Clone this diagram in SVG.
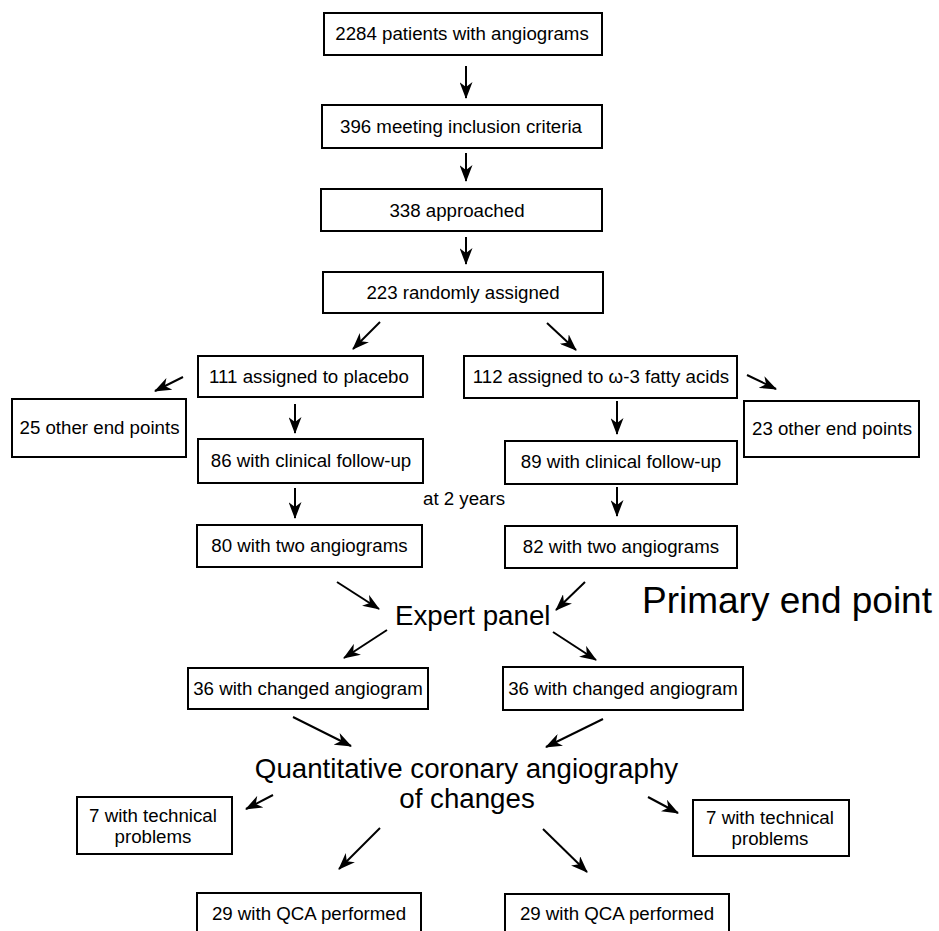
<svg xmlns="http://www.w3.org/2000/svg" width="939" height="931" viewBox="0 0 939 931">
<style>
  .box { fill: #fff; stroke: #000; stroke-width: 2; }
  .t { font-family: "Liberation Sans", Arial, Helvetica, sans-serif; font-size: 18.7px; fill: #000; text-anchor: middle; }
  .big { font-family: "Liberation Sans", Arial, Helvetica, sans-serif; font-size: 27.7px; fill: #000; }
  .huge { font-family: "Liberation Sans", Arial, Helvetica, sans-serif; font-size: 37px; fill: #000; }
  .c line { stroke: #000; stroke-width: 2; fill: none; marker-end: url(#ah); }
</style>
<defs>
  <marker id="ah" viewBox="0 0 17 13" refX="16" refY="6.5" markerWidth="17" markerHeight="13" markerUnits="userSpaceOnUse" orient="auto">
    <path d="M0,0 L17,6.5 L0,13 L5,6.5 z" fill="#000"/>
  </marker>
</defs>
<rect width="939" height="931" fill="#fff"/>

<g id="n2284"><rect class="box" x="324" y="13" width="278" height="42"/><text class="t" x="462" y="40">2284 patients with angiograms</text></g>
<g id="n396"><rect class="box" x="322" y="105" width="280" height="43"/><text class="t" x="461" y="133">396 meeting inclusion criteria</text></g>
<g id="n338"><rect class="box" x="321" y="189" width="281" height="42"/><text class="t" x="457" y="217">338 approached</text></g>
<g id="n223"><rect class="box" x="323" y="272" width="280" height="41"/><text class="t" x="463" y="299">223 randomly assigned</text></g>
<g id="n111"><rect class="box" x="198" y="356" width="225" height="41"/><text class="t" x="309" y="383">111 assigned to placebo</text></g>
<g id="n112"><rect class="box" x="464" y="356" width="273" height="42"/><text class="t" x="601" y="383">112 assigned to ω-3 fatty acids</text></g>
<g id="n25"><rect class="box" x="12" y="399" width="174" height="58"/><text class="t" x="99.5" y="434">25 other end points</text></g>
<g id="n23"><rect class="box" x="744" y="401" width="175" height="56"/><text class="t" x="832" y="435">23 other end points</text></g>
<g id="n86"><rect class="box" x="198" y="439" width="225" height="44"/><text class="t" x="311" y="467">86 with clinical follow-up</text></g>
<g id="n89"><rect class="box" x="505" y="441" width="232" height="43"/><text class="t" x="621" y="468">89 with clinical follow-up</text></g>
<g id="lbl2y"><text class="t" x="423" y="505" style="text-anchor:start">at 2 years</text></g>
<g id="n80"><rect class="box" x="197" y="525" width="225" height="42"/><text class="t" x="309.5" y="552">80 with two angiograms</text></g>
<g id="n82"><rect class="box" x="505" y="526" width="232" height="42"/><text class="t" x="621" y="553">82 with two angiograms</text></g>
<g id="expert"><text class="big" x="395" y="625">Expert panel</text></g>
<g id="primary"><text class="huge" x="642" y="613">Primary end point</text></g>
<g id="n36a"><rect class="box" x="188" y="668" width="240" height="41"/><text class="t" x="308" y="695">36 with changed angiogram</text></g>
<g id="n36b"><rect class="box" x="503" y="667" width="240" height="43"/><text class="t" x="623" y="695">36 with changed angiogram</text></g>
<g id="qca"><text class="big" x="466.5" y="778" text-anchor="middle">Quantitative coronary angiography</text><text class="big" x="467" y="808" text-anchor="middle">of changes</text></g>
<g id="n7a"><rect class="box" x="77" y="797" width="155" height="57"/><text class="t" x="153" y="822">7 with technical</text><text class="t" x="153" y="843">problems</text></g>
<g id="n7b"><rect class="box" x="693" y="800" width="156" height="56"/><text class="t" x="770" y="824">7 with technical</text><text class="t" x="770" y="845">problems</text></g>
<g id="n29a"><rect class="box" x="197" y="893" width="224" height="50"/><text class="t" x="309" y="920">29 with QCA performed</text></g>
<g id="n29b"><rect class="box" x="505" y="894" width="224" height="50"/><text class="t" x="617" y="920">29 with QCA performed</text></g>

<g id="connectors" class="c">
  <line x1="466" y1="66" x2="466" y2="98"/>
  <line x1="466" y1="153" x2="466" y2="181"/>
  <line x1="466" y1="237" x2="466" y2="264"/>
  <line x1="380" y1="322" x2="353" y2="349"/>
  <line x1="547" y1="323" x2="576" y2="350"/>
  <line x1="183" y1="377" x2="155" y2="391"/>
  <line x1="295" y1="404" x2="295" y2="433"/>
  <line x1="747" y1="375" x2="776" y2="389"/>
  <line x1="617" y1="401" x2="617" y2="434"/>
  <line x1="295" y1="488" x2="295" y2="518"/>
  <line x1="617" y1="487" x2="617" y2="516"/>
  <line x1="337" y1="582" x2="379" y2="609"/>
  <line x1="585" y1="582" x2="556" y2="610"/>
  <line x1="387" y1="630" x2="344" y2="658"/>
  <line x1="553" y1="632" x2="596" y2="660"/>
  <line x1="293" y1="717" x2="351" y2="746"/>
  <line x1="603" y1="719" x2="546" y2="747"/>
  <line x1="273" y1="795" x2="246" y2="809"/>
  <line x1="380" y1="828" x2="339" y2="869"/>
  <line x1="648" y1="797" x2="678" y2="813"/>
  <line x1="543" y1="829" x2="587" y2="872"/>
</g>
</svg>
